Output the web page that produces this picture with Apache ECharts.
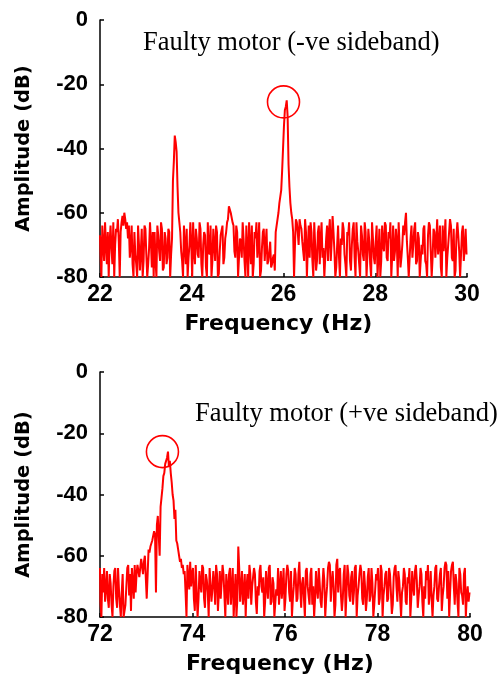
<!DOCTYPE html>
<html>
<head>
<meta charset="utf-8">
<script src="https://cdn.jsdelivr.net/npm/echarts@6/dist/echarts.min.js"></script>
<style>
html,body{margin:0;padding:0;background:#fff;}
#chart{width:500px;height:679px;}
</style>
</head>
<body>
<div id="chart"></div>
<script>
// ---- data ----
var topTitle = 'Faulty motor (-ve sideband)';
var bottomTitle = 'Faulty motor (+ve sideband)';
var xName = 'Frequency (Hz)';
var yName = 'Amplitude (dB)';
var yTicks = [0, -20, -40, -60, -80];
var topXTicks = [22, 24, 26, 28, 30];
var bottomXTicks = [72, 74, 76, 78, 80];
var topFreqStart = 22, bottomFreqStart = 72, freqStep = 0.02;

var topAmp = [
-67,-72,-80,-64,-70,-75,-63,-70,-76,-66,-80,-69,-64,-71,-76,-63,-80,-70,-65,-66,
-62,-69,-80,-66,-63,-61,-64,-60,-62,-65,-63,-68,-64,-74,-70,-64,-76,-80,-66,-73,
-76,-80,-64,-70,-78,-72,-65,-80,-75,-64,-65,-73,-80,-76,-71,-63,-69,-77,-66,-80,
-66,-75,-80,-64,-67,-72,-75,-63,-65,-78,-77,-66,-68,-76,-74,-65,-66,-80,-73,-68,
-50,-44,-36,-38,-41,-52,-60,-63,-66,-72,-75,-80,-64,-70,-76,-65,-80,-74,-70,-63,
-70,-80,-63,-72,-76,-65,-68,-73,-74,-63,-65,-76,-80,-70,-66,-67,-77,-80,-63,-72,
-73,-64,-80,-75,-65,-70,-75,-64,-66,-80,-79,-72,-67,-67,-64,-76,-74,-68,-66,-63,
-62,-58,-59,-60,-60,-63,-64,-72,-74,-64,-66,-80,-80,-68,-69,-74,-63,-68,-75,-80,
-64,-71,-80,-63,-70,-76,-64,-80,-76,-66,-68,-63,-74,-70,-63,-80,-78,-71,-66,-65,
-75,-70,-65,-76,-75,-72,-69,-77,-76,-74,-73,-78,-66,-64,-62,-60,-57,-55,-53,-47,
-40,-33,-28,-27,-25,-30,-45,-52,-57,-60,-62,-66,-80,-70,-62,-63,-66,-70,-62,-64,
-65,-69,-72,-75,-62,-66,-80,-71,-64,-74,-63,-66,-75,-80,-63,-70,-78,-75,-66,-64,
-76,-68,-63,-74,-71,-80,-80,-68,-64,-75,-66,-62,-75,-69,-61,-66,-72,-80,-77,-70,
-64,-74,-80,-68,-70,-63,-65,-73,-76,-80,-66,-67,-63,-75,-78,-70,-65,-63,-74,-80,
-63,-69,-72,-76,-80,-64,-67,-73,-75,-63,-66,-80,-73,-65,-69,-76,-80,-63,-68,-74,
-76,-69,-64,-80,-73,-65,-80,-75,-64,-70,-72,-63,-64,-74,-75,-66,-68,-63,-80,-73,
-64,-75,-72,-65,-69,-80,-63,-70,-77,-74,-70,-64,-67,-63,-60,-69,-74,-80,-80,-68,
-64,-74,-70,-65,-63,-76,-75,-66,-68,-80,-80,-70,-73,-65,-64,-75,-76,-80,-67,-63,
-64,-72,-80,-74,-65,-66,-74,-69,-62,-73,-70,-64,-77,-80,-64,-72,-68,-62,-80,-74,
-70,-66,-62,-64,-74,-75,-65,-80,-78,-67,-63,-67,-72,-80,-80,-66,-64,-75,-71,-65,
-73
];

var bottomAmp = [
-64,-75,-80,-66,-72,-64,-75,-71,-65,-74,-77,-66,-69,-76,-80,-70,-65,-64,-74,-77,
-64,-71,-76,-80,-72,-66,-80,-80,-76,-70,-64,-63,-73,-66,-78,-64,-69,-74,-63,-72,
-66,-63,-63,-67,-64,-61,-61,-66,-62,-60,-60,-74,-66,-58,-59,-57,-57,-55,-55,-52,
-53,-72,-50,-47,-47,-60,-44,-41,-38,-34,-33,-30,-30,-28,-26,-31,-29,-33,-36,-40,
-42,-48,-45,-55,-56,-58,-60,-62,-61,-64,-63,-66,-65,-72,-80,-63,-67,-71,-62,-70,
-66,-64,-74,-78,-63,-72,-80,-74,-65,-69,-72,-63,-64,-74,-77,-66,-68,-72,-80,-64,
-64,-75,-71,-65,-69,-76,-63,-66,-78,-72,-65,-74,-74,-63,-66,-73,-80,-66,-70,-76,
-66,-64,-76,-70,-64,-80,-73,-66,-80,-74,-57,-64,-75,-70,-65,-76,-72,-66,-80,-70,
-66,-74,-63,-66,-76,-70,-67,-64,-66,-75,-79,-70,-73,-65,-63,-70,-72,-67,-80,-75,
-65,-70,-74,-64,-63,-76,-75,-67,-69,-80,-80,-71,-73,-64,-76,-70,-65,-74,-70,-64,
-78,-74,-66,-63,-65,-72,-75,-65,-80,-74,-70,-64,-66,-75,-74,-66,-62,-71,-77,-69,
-67,-74,-80,-65,-64,-70,-73,-76,-66,-64,-76,-70,-80,-74,-65,-71,-74,-64,-69,-75,
-77,-70,-64,-68,-80,-74,-70,-64,-62,-63,-75,-69,-65,-70,-80,-76,-63,-61,-72,-65,
-64,-73,-78,-74,-66,-63,-80,-72,-63,-66,-73,-75,-67,-65,-76,-72,-64,-63,-80,-73,
-70,-66,-63,-65,-74,-76,-65,-70,-78,-74,-67,-64,-75,-73,-64,-69,-80,-76,-71,-66,
-68,-64,-76,-74,-63,-65,-80,-73,-70,-66,-65,-75,-74,-64,-66,-72,-79,-76,-67,-64,
-63,-70,-75,-65,-68,-74,-80,-72,-70,-64,-66,-75,-76,-67,-69,-64,-80,-74,-65,-70,
-73,-65,-63,-68,-77,-73,-70,-64,-66,-75,-80,-70,-74,-65,-68,-63,-76,-72,-65,-74,
-80,-73,-70,-64,-63,-74,-75,-70,-66,-64,-78,-73,-70,-64,-62,-63,-74,-65,-80,-72,
-65,-63,-62,-70,-76,-66,-69,-75,-80,-64,-66,-72,-73,-76,-66,-64,-80,-73,-70,-75,
-72
];

var topMarker = [26.0, -25.5];
var bottomMarker = [73.35, -26];

function pairs(start, arr) {
  return arr.map(function (v, i) { return [+(start + i * freqStep).toFixed(2), v]; });
}

var chart = echarts.init(document.getElementById('chart'), null, {renderer: 'canvas'});
var yTickFont = {fontFamily: 'Liberation Sans', fontWeight: 'bold', fontSize: 22, color: '#000'};
var xTickFont = {fontFamily: 'Liberation Sans', fontWeight: 'bold', fontSize: 23, color: '#000'};

function xAxis(gi, ticks) {
  return {
    type: 'value', gridIndex: gi, min: ticks[0], max: ticks[ticks.length - 1], interval: 2,
    name: xName, nameLocation: 'middle', nameGap: 36,
    nameTextStyle: {fontFamily: 'DejaVu Sans', fontWeight: 'bold', fontSize: 22, color: '#000', padding: [0, 10, 0, 0]},
    axisLine: {show: true, onZero: false, lineStyle: {color: '#000', width: 1.5}},
    axisTick: {show: true, inside: true, length: 4, lineStyle: {color: '#000', width: 1.5}},
    axisLabel: Object.assign({margin: 6}, xTickFont),
    splitLine: {show: false}
  };
}
function yAxis(gi) {
  return {
    type: 'value', gridIndex: gi, min: -80, max: 0, interval: 20,
    name: yName, nameLocation: 'middle', nameGap: 66,
    nameTextStyle: {fontFamily: 'DejaVu Sans', fontWeight: 'bold', fontSize: 19.5, color: '#000'},
    axisLine: {show: true, lineStyle: {color: '#000', width: 1.5}},
    axisTick: {show: true, inside: true, length: 4, lineStyle: {color: '#000', width: 1.5}},
    axisLabel: Object.assign({margin: 12}, yTickFont),
    splitLine: {show: false}
  };
}
function series(gi, start, arr, marker) {
  return {
    type: 'line', xAxisIndex: gi, yAxisIndex: gi, data: pairs(start, arr),
    step: 'middle', symbol: 'none', clip: true,
    lineStyle: {color: '#ff0000', width: 2},
    markPoint: {
      symbol: 'circle', symbolSize: 32, silent: true,
      itemStyle: {color: 'rgba(0,0,0,0)', borderColor: '#ff0000', borderWidth: 1.6},
      label: {show: false},
      data: [{coord: marker}]
    },
    animation: false
  };
}

chart.setOption({
  animation: false,
  backgroundColor: '#fff',
  title: [
    {text: topTitle, left: 138, top: 25, textStyle: {fontFamily: 'Liberation Serif', fontWeight: 'normal', fontSize: 26.5, color: '#000'}},
    {text: bottomTitle, left: 190, top: 396, textStyle: {fontFamily: 'Liberation Serif', fontWeight: 'normal', fontSize: 26.5, color: '#000'}}
  ],
  grid: [
    {left: 100, top: 20, width: 367, height: 257},
    {left: 100, top: 372, width: 370, height: 245}
  ],
  xAxis: [xAxis(0, topXTicks), xAxis(1, bottomXTicks)],
  yAxis: [yAxis(0), yAxis(1)],
  series: [series(0, topFreqStart, topAmp, topMarker), series(1, bottomFreqStart, bottomAmp, bottomMarker)]
});
</script>
</body>
</html>
